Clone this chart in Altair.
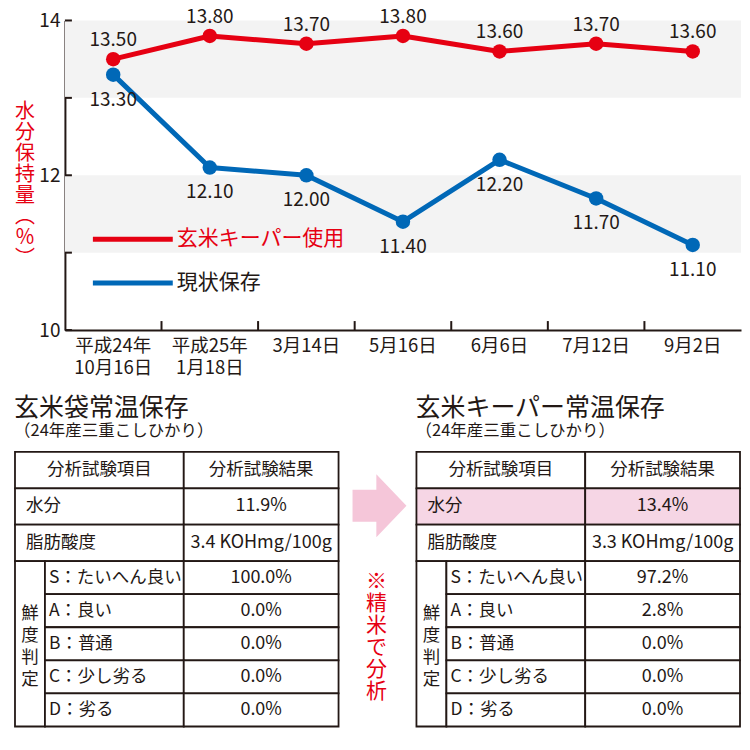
import altair as alt
import pandas as pd

# ---------------- data ----------------
dates = ["平成24年\n10月16日", "平成25年\n1月18日", "3月14日", "5月16日", "6月6日", "7月12日", "9月2日"]
keeper_values = [13.50, 13.80, 13.70, 13.80, 13.60, 13.70, 13.60]
current_values = [13.30, 12.10, 12.00, 11.40, 12.20, 11.70, 11.10]
series_names = ["玄米キーパー使用", "現状保存"]
y_ticks = [10, 11, 12, 13, 14]
band_lo = [13, 11]
band_hi = [14, 12]
y_title_chars = ["水", "分", "保", "持", "量", "︵", "％", "︶"]

left_title = "玄米袋常温保存"
right_title = "玄米キーパー常温保存"
table_subtitle = "（24年産三重こしひかり）"
header_labels = ["分析試験項目", "分析試験結果"]
main_items = ["水分", "脂肪酸度"]
grade_group = ["鮮", "度", "判", "定"]
grade_items = ["S：たいへん良い", "A：良い", "B：普通", "C：少し劣る", "D：劣る"]
left_results = ["11.9%", "3.4 KOHmg/100g", "100.0%", "0.0%", "0.0%", "0.0%", "0.0%"]
right_results = ["13.4%", "3.3 KOHmg/100g", "97.2%", "2.8%", "0.0%", "0.0%", "0.0%"]
note_chars = ["※", "精", "米", "で", "分", "析"]

# ---------------- style / layout ----------------
FONT = "Noto Sans CJK JP"
RED = "#e60012"
BLUE = "#0068b7"
INK = "#231815"
BAND = "#f3f3f3"
PINK = "#f6d6e5"
ARROW_COLOR = "#f5c6d9"
SERIES_COLORS = [RED, BLUE]
LEGEND_TEXT_COLORS = [RED, INK]
PLOT_W, PLOT_H = 728, 310
X0, X1 = 50, 727          # pixel range of the category axis inside the plot
COL = [0, 30, 169, 324]
ROW_H = [1.1, 1.1, 1.1, 1, 1, 1, 1, 1]
TABLE_H = 275
MID_W = 78
VERT_LH = 22
ARROW_PATH = "M-0.857,-0.51 L-0.1,-0.51 L-0.1,-1 L0.857,0 L-0.1,1 L-0.1,0.51 L-0.857,0.51 Z"

# ---------------- top line chart ----------------
n = len(dates)
line_df = pd.DataFrame({
    "date": dates * 2,
    "value": keeper_values + current_values,
    "series": [series_names[0]] * n + [series_names[1]] * n,
})

x_scale = alt.Scale(type="band", domain=dates, paddingInner=0, paddingOuter=0, range=[X0, X1])
x_axis = alt.Axis(title=None, labelExpr="split(datum.label, '\\n')", labelAngle=0,
                  labelFontSize=18.5, labelLineHeight=23, labelPadding=6, labelColor=INK,
                  labelFont=FONT, ticks=False, tickSize=0, domainColor=INK, domainWidth=2,
                  grid=False)
y_scale = alt.Scale(domain=[10, 14], nice=False, zero=False)
y_axis = alt.Axis(values=y_ticks, labelExpr="datum.value % 2 === 0 ? datum.label : ''",
                  ticks=False, tickSize=0, grid=False, domainColor=INK, domainWidth=2,
                  labelFontSize=19, labelPadding=5, labelColor=INK, labelFont=FONT,
                  title=None, offset=-X0)


def X(**kw):
    return alt.X("date:N", scale=x_scale, axis=x_axis, **kw)


def Y(field):
    return alt.Y(field, scale=y_scale, axis=y_axis)


band_df = pd.DataFrame({"lo": band_lo, "hi": band_hi})
bands = alt.Chart(band_df).mark_rect(color=BAND).encode(
    x=alt.value(X0), x2=alt.value(X1), y=Y("lo:Q"), y2="hi:Q")

ytick = alt.Chart(pd.DataFrame({"v": y_ticks})).mark_rule(color=INK, strokeWidth=2).encode(
    y=Y("v:Q"), x=alt.value(X0), x2=alt.value(X0 + 7))

xtick = alt.Chart(pd.DataFrame({"date": dates[1:]})).mark_rule(color=INK, strokeWidth=2).encode(
    x=X(bandPosition=0), y=alt.value(PLOT_H), y2=alt.value(PLOT_H - 9))

ytitle = alt.Chart(pd.DataFrame({"t": ["\n".join(y_title_chars)]})).mark_text(
    lineBreak="\n", lineHeight=21, fontSize=20, color=RED, align="center",
    baseline="middle", font=FONT
).encode(x=alt.value(10), y=alt.value(92), text="t:N")

layers = [bands, ytick, xtick, ytitle]
label_dy = {series_names[0]: -19, series_names[1]: 25}
for idx in [1, 0]:
    name = series_names[idx]
    color = SERIES_COLORS[idx]
    base = alt.Chart(line_df).transform_filter(alt.datum.series == name).encode(
        x=X(), y=Y("value:Q"))
    layers.append(base.mark_line(color=color, strokeWidth=5, strokeJoin="round"))
    layers.append(base.mark_point(filled=True, color=color, size=210, opacity=1))
    layers.append(base.mark_text(dy=label_dy[name], fontSize=19, color=INK, font=FONT).encode(
        text=alt.Text("value:Q", format=".2f")))

legend_df = pd.DataFrame({"series": series_names})
for i, name in enumerate(series_names):
    d = legend_df.iloc[[i]]
    ly = 219 + 44 * i
    layers.append(alt.Chart(d).mark_rule(strokeWidth=5, color=SERIES_COLORS[i]).encode(
        x=alt.value(X0 + 28), x2=alt.value(X0 + 108), y=alt.value(ly)))
    layers.append(alt.Chart(d).mark_text(align="left", baseline="middle", fontSize=21,
                                         color=LEGEND_TEXT_COLORS[i], font=FONT).encode(
        x=alt.value(X0 + 112), y=alt.value(ly), text="series:N"))

top = alt.layer(*layers).properties(width=PLOT_W, height=PLOT_H)

# ---------------- tables ----------------
edges = [0.0]
for h in ROW_H:
    edges.append(edges[-1] + h)
UNIT_PX = TABLE_H / edges[-1]


def mid_row(r):
    return (edges[r] + edges[r + 1]) / 2


def table_chart(title, results, highlight):
    cells, tc, tl = [], [], []
    res_x = (COL[2] + COL[3]) / 2
    cells.append(dict(x0=COL[0], x1=COL[2], y0=edges[0], y1=edges[1], fill="white"))
    cells.append(dict(x0=COL[2], x1=COL[3], y0=edges[0], y1=edges[1], fill="white"))
    tc.append(dict(t=header_labels[0], tx=(COL[0] + COL[2]) / 2, ty=mid_row(0), fs=17.5))
    tc.append(dict(t=header_labels[1], tx=res_x, ty=mid_row(0), fs=17.5))
    for i, item in enumerate(main_items):
        r = i + 1
        fill = PINK if (highlight and i == 0) else "white"
        cells.append(dict(x0=COL[0], x1=COL[2], y0=edges[r], y1=edges[r + 1], fill=fill))
        cells.append(dict(x0=COL[2], x1=COL[3], y0=edges[r], y1=edges[r + 1], fill=fill))
        tl.append(dict(t=item, tx=11, ty=mid_row(r), fs=17.5))
        tc.append(dict(t=results[i], tx=res_x, ty=mid_row(r), fs=18))
    cells.append(dict(x0=COL[0], x1=COL[1], y0=edges[3], y1=edges[-1], fill="white"))
    for j, g in enumerate(grade_items):
        r = 3 + j
        cells.append(dict(x0=COL[1], x1=COL[2], y0=edges[r], y1=edges[r + 1], fill="white"))
        cells.append(dict(x0=COL[2], x1=COL[3], y0=edges[r], y1=edges[r + 1], fill="white"))
        tl.append(dict(t=g, tx=COL[1] + 4, ty=mid_row(r), fs=17.5))
        tc.append(dict(t=results[2 + j], tx=res_x, ty=mid_row(r), fs=18))
    group_mid = (edges[3] + edges[-1]) / 2
    first_line = group_mid - (len(grade_group) - 1) / 2 * VERT_LH / UNIT_PX + 0.1
    vert = [dict(t="\n".join(grade_group), tx=COL[1] / 2, ty=first_line)]

    sx = alt.Scale(domain=[0, COL[-1]], nice=False, zero=False)
    sy = alt.Scale(domain=[0, edges[-1]], reverse=True, nice=False, zero=False)

    rects = alt.Chart(pd.DataFrame(cells)).mark_rect(stroke=INK, strokeWidth=1.8).encode(
        x=alt.X("x0:Q", scale=sx, axis=None), x2="x1:Q",
        y=alt.Y("y0:Q", scale=sy, axis=None), y2="y1:Q",
        fill=alt.Fill("fill:N", scale=None))
    tcen = alt.Chart(pd.DataFrame(tc)).mark_text(align="center", baseline="middle",
                                                  color=INK, font=FONT).encode(
        x=alt.X("tx:Q", scale=sx, axis=None), y=alt.Y("ty:Q", scale=sy, axis=None),
        text="t:N", size=alt.Size("fs:Q", scale=None))
    tleft = alt.Chart(pd.DataFrame(tl)).mark_text(align="left", baseline="middle",
                                                   color=INK, font=FONT).encode(
        x=alt.X("tx:Q", scale=sx, axis=None), y=alt.Y("ty:Q", scale=sy, axis=None),
        text="t:N", size=alt.Size("fs:Q", scale=None))
    tvert = alt.Chart(pd.DataFrame(vert)).mark_text(align="center", baseline="middle",
                                                     color=INK, font=FONT, fontSize=17.5,
                                                     lineBreak="\n", lineHeight=VERT_LH).encode(
        x=alt.X("tx:Q", scale=sx, axis=None), y=alt.Y("ty:Q", scale=sy, axis=None),
        text="t:N")
    return alt.layer(rects, tcen, tleft, tvert).properties(
        width=COL[-1], height=TABLE_H,
        title=alt.TitleParams(text=title, subtitle=table_subtitle, anchor="start",
                              fontSize=25, subtitleFontSize=16.5, fontWeight="normal",
                              color=INK, subtitleColor=INK, offset=12, subtitlePadding=2,
                              font=FONT, subtitleFont=FONT))


t_left = table_chart(left_title, left_results, False)
t_right = table_chart(right_title, right_results, True)

arrow = alt.Chart(pd.DataFrame({"k": ["arrow"]})).mark_point(
    shape=ARROW_PATH, filled=True, color=ARROW_COLOR, size=3969, opacity=1, strokeWidth=0
).encode(x=alt.value(41), y=alt.value(54))
note = alt.Chart(pd.DataFrame({"t": ["\n".join(note_chars)]})).mark_text(
    lineBreak="\n", lineHeight=22, fontSize=21, color=RED, align="center",
    baseline="middle", font=FONT
).encode(x=alt.value(38), y=alt.value(130), text="t:N")
middle = alt.layer(arrow, note).properties(width=MID_W, height=TABLE_H)

bottom = alt.hconcat(t_left, middle, t_right, spacing=0, bounds="flush")

chart = alt.vconcat(top, bottom, spacing=17,
                    padding={"top": -1, "left": 6, "right": 0, "bottom": 5}
                    ).configure(font=FONT).configure_view(stroke=None)

chart.save("out.html", embed_options={"renderer": "svg", "actions": False})
